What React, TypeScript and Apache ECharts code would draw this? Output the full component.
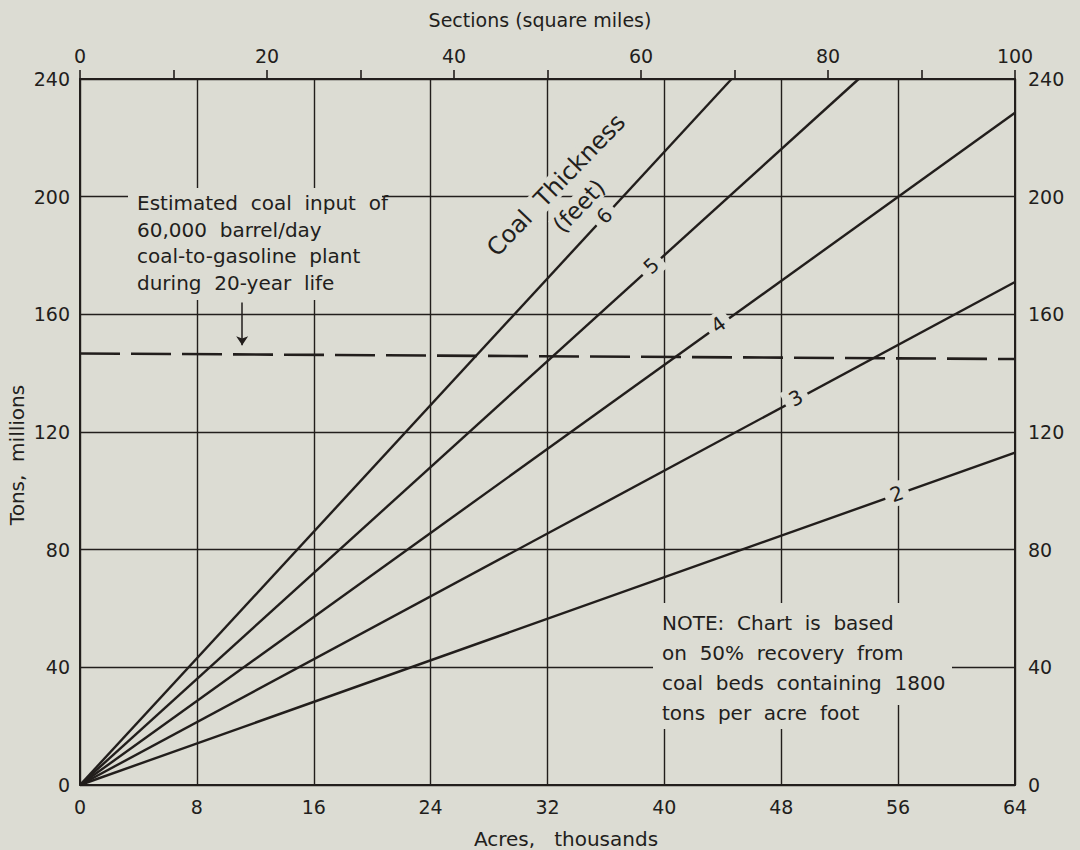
import React, { useEffect, useRef } from "react";
import * as echarts from "echarts";

// ---- data ----
const thickness = ["2", "3", "4", "5", "6"]; // coal thickness, feet
// each line runs from the origin to an end point [acres thousands, tons millions]
const lineStartAcres = [0, 0, 0, 0, 0];
const lineStartTons = [0, 0, 0, 0, 0];
const lineEndAcres = [64, 64, 64, 53.3, 44.6];
const lineEndTons = [113, 171, 228.5, 240, 240];
// where the thickness number sits on each line
const labelAcres = [55.9, 49.0, 43.7, 39.1, 35.9];
const labelTons = [99, 131.5, 156.5, 176.5, 193.5];
// estimated coal input (dashed)
const dashedAcres = [0, 64];
const dashedTons = [146.7, 144.8];
// arrow pointing at the dashed line
const arrowAcres = [11.1, 11.1];
const arrowTons = [164, 149.5];

const acresMin = 0, acresMax = 64, acresStep = 8;
const sectionsMin = 0, sectionsMax = 100, sectionsStep = 10, sectionsLabelStep = 20;
const tonsMin = 0, tonsMax = 240, tonsStep = 40;

const estimatedText = [
  "Estimated  coal  input  of",
  "60,000  barrel/day",
  "coal-to-gasoline  plant",
  "during  20-year  life",
];
const noteText = [
  "NOTE:  Chart  is  based",
  "on  50%  recovery  from",
  "coal  beds  containing  1800",
  "tons  per  acre  foot",
];

// ---- style ----
const BG = "#dcdcd3";
const INK = "#221e1c";
const FONT = "DejaVu Sans";
const GRID = { left: 80, right: 65, top: 79, bottom: 65 };
const W = 1080, H = 850;

export default function App() {
  const ref = useRef<HTMLDivElement>(null);
  useEffect(() => {
    if (!ref.current) return;
    const chart = echarts.init(ref.current, null, { renderer: "svg" });
    const plotW = W - GRID.left - GRID.right;
    const plotH = H - GRID.top - GRID.bottom;
    const pxPerAcre = plotW / (acresMax - acresMin);
    const pxPerTon = plotH / (tonsMax - tonsMin);

    const lineSeries = thickness.map((t, i) => ({
      type: "line",
      name: t + " ft",
      xAxisIndex: 0,
      yAxisIndex: 0,
      showSymbol: false,
      symbol: "none",
      lineStyle: { color: INK, width: 2.4 },
      data: [
        [lineStartAcres[i], lineStartTons[i]],
        [lineEndAcres[i], lineEndTons[i]],
      ],
      z: 3,
    }));

    const labelData = thickness.map((t, i) => {
      const slope =
        ((lineEndTons[i] - lineStartTons[i]) * pxPerTon) /
        ((lineEndAcres[i] - lineStartAcres[i]) * pxPerAcre);
      const angle = (Math.atan(slope) * 180) / Math.PI;
      return {
        value: [labelAcres[i], labelTons[i]],
        name: t,
        label: { rotate: angle },
      };
    });

    const axisLine = { show: true, onZero: false, lineStyle: { color: INK, width: 2 } };

    const option: any = {
      animation: false,
      backgroundColor: BG,
      textStyle: { fontFamily: FONT },
      grid: { ...GRID, containLabel: false },
      xAxis: [
        {
          type: "value",
          position: "bottom",
          min: acresMin,
          max: acresMax,
          interval: acresStep,
          axisLine,
          axisTick: { show: false },
          axisLabel: { color: INK, fontSize: 19, fontFamily: FONT, margin: 12, showMinLabel: true, showMaxLabel: true },
          splitLine: { show: true, lineStyle: { color: INK, width: 1.4 } },
        },
        {
          type: "value",
          position: "top",
          min: sectionsMin,
          max: sectionsMax,
          interval: sectionsStep,
          axisLine,
          axisTick: { show: true, inside: false, length: 9, lineStyle: { color: INK, width: 1.6 } },
          axisLabel: {
            color: INK,
            fontSize: 19,
            fontFamily: FONT,
            margin: 14,
            showMinLabel: true,
            showMaxLabel: true,
            formatter: (v: number) => (v % sectionsLabelStep === 0 ? String(v) : ""),
          },
          splitLine: { show: false },
        },
      ],
      yAxis: [
        {
          type: "value",
          position: "left",
          min: tonsMin,
          max: tonsMax,
          interval: tonsStep,
          axisLine,
          axisTick: { show: false },
          axisLabel: { color: INK, fontSize: 19, fontFamily: FONT, margin: 10, showMinLabel: true, showMaxLabel: true },
          splitLine: { show: true, lineStyle: { color: INK, width: 1.4 } },
        },
        {
          type: "value",
          position: "right",
          min: tonsMin,
          max: tonsMax,
          interval: tonsStep,
          axisLine,
          axisTick: { show: false },
          axisLabel: { color: INK, fontSize: 19, fontFamily: FONT, margin: 13, showMinLabel: true, showMaxLabel: true },
          splitLine: { show: false },
        },
      ],
      series: [
        ...lineSeries,
        {
          type: "line",
          name: "Estimated coal input",
          xAxisIndex: 0,
          yAxisIndex: 0,
          symbol: "none",
          showSymbol: false,
          lineStyle: { color: INK, width: 2.6, type: [40, 11] },
          data: dashedAcres.map((a, i) => [a, dashedTons[i]]),
          z: 3,
        },
        {
          type: "lines",
          coordinateSystem: "cartesian2d",
          xAxisIndex: 0,
          yAxisIndex: 0,
          symbol: ["none", "arrow"],
          symbolSize: [0, 9],
          lineStyle: { color: INK, width: 1.5, opacity: 1 },
          data: [{ coords: arrowAcres.map((a, i) => [a, arrowTons[i]]) }],
          z: 4,
        },
        {
          type: "scatter",
          xAxisIndex: 0,
          yAxisIndex: 0,
          symbolSize: 1,
          itemStyle: { color: BG, opacity: 1 },
          label: {
            show: true,
            position: "inside",
            formatter: "{b}",
            color: INK,
            opacity: 1,
            textBorderWidth: 0,
            fontSize: 20,
            fontFamily: FONT,
            backgroundColor: BG,
            padding: [2, 6],
          },
          emphasis: { disabled: true },
          data: labelData,
          z: 110,
        },
      ],
      graphic: [
        // top axis name
        {
          type: "text",
          x: 540,
          y: 20,
          z: 100,
          style: { text: "Sections (square miles)", fill: INK, font: `19px "${FONT}"`, textAlign: "center", textVerticalAlign: "middle" },
        },
        // bottom axis name
        {
          type: "text",
          x: 566,
          y: 839,
          z: 100,
          style: { text: "Acres,   thousands", fill: INK, font: `20px "${FONT}"`, textAlign: "center", textVerticalAlign: "middle" },
        },
        // left axis name
        {
          type: "text",
          x: 17,
          y: 455,
          rotation: Math.PI / 2,
          z: 100,
          style: { text: "Tons,  millions", fill: INK, font: `20px "${FONT}"`, textAlign: "center", textVerticalAlign: "middle" },
        },
        // estimated coal input note
        { type: "rect", z: 90, shape: { x: 128, y: 188, width: 254, height: 112 }, style: { fill: BG } },
        {
          type: "text",
          x: 137,
          y: 190,
          z: 100,
          style: { text: estimatedText.join("\n"), fill: INK, font: `20px "${FONT}"`, lineHeight: 26.5, textAlign: "left", textVerticalAlign: "top" },
        },
        // NOTE box
        { type: "rect", z: 90, shape: { x: 653, y: 603, width: 299, height: 102 }, style: { fill: BG } },
        { type: "rect", z: 90, shape: { x: 653, y: 700, width: 240, height: 29 }, style: { fill: BG } },
        {
          type: "text",
          x: 662,
          y: 608,
          z: 100,
          style: { text: noteText.join("\n"), fill: INK, font: `20px "${FONT}"`, lineHeight: 30, textAlign: "left", textVerticalAlign: "top" },
        },
        // Coal thickness title, two separate lines
        {
          type: "text",
          x: 556,
          y: 185,
          rotation: (46 * Math.PI) / 180,
          z: 100,
          style: {
            text: "Coal  Thickness",
            fill: INK,
            font: `24px "${FONT}"`,
            textAlign: "center",
            textVerticalAlign: "middle",
            backgroundColor: BG,
            padding: [0, 2],
          },
        },
        {
          type: "text",
          x: 579,
          y: 206,
          rotation: (46 * Math.PI) / 180,
          z: 100,
          style: {
            text: "(feet)",
            fill: INK,
            font: `23px "${FONT}"`,
            textAlign: "center",
            textVerticalAlign: "middle",
            backgroundColor: BG,
            padding: [0, 1],
          },
        },
      ],
    };
    chart.setOption(option);
    return () => chart.dispose();
  }, []);
  return (
    <div
      ref={ref}
      style={{ position: "absolute", left: 0, top: 0, width: W, height: H, background: BG }}
    />
  );
}
